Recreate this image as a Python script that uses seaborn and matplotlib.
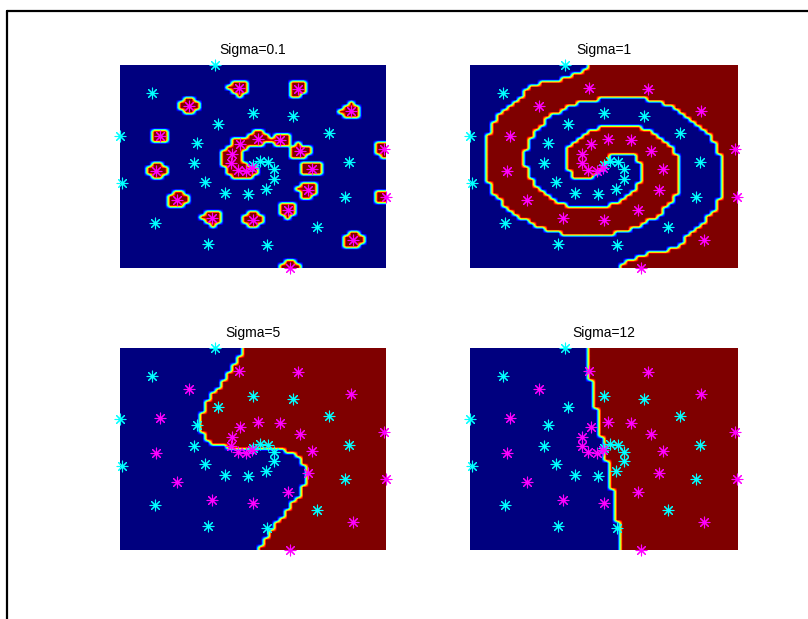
import numpy as np
import matplotlib
matplotlib.use("Agg")
import matplotlib.pyplot as plt
from matplotlib.lines import Line2D
import seaborn as sns

# Two interleaved spirals: class -1 (cyan) and class +1 (magenta)
cyan_x = [-1.43, -3.77, 0.01, 1.51, -1.31, -4.99, 2.86, -2.08, -2.21, 0.26, 0.57, 0.79, 3.61,
          -4.93, -1.78, 0.79, 0.48, -1.06, -0.18, 3.48, -3.68, 2.41, -1.68, 0.53, 0.02]
cyan_y = [5.00, 3.61, 2.62, 2.49, 2.10, 1.48, 1.64, 1.18, 0.15, 0.25, 0.20, -0.13, 0.21,
          -0.82, -0.75, -0.61, -1.10, -1.30, -1.36, -1.48, -2.79, -3.00, -3.82, -3.89, 0.05]
mag_x = [-0.53, 1.69, -2.41, 3.68, -3.49, 0.19, 1.04, -0.47, 1.79, -0.78, 4.94, -0.81, -3.62,
         -0.56, -0.24, -0.02, 2.22, 2.07, 5.01, -2.84, 1.32, -1.52, 0.01, 3.76, 1.41]
mag_y = [3.85, 3.82, 2.98, 2.74, 1.51, 1.36, 1.30, 1.10, 0.74, 0.61, 0.85, 0.16, -0.20,
         -0.16, -0.21, -0.05, -0.11, -1.18, -1.48, -1.64, -2.13, -2.54, -2.66, -3.62, -5.00]

sigmas = [0.1, 1, 5, 12]
titles = ["Sigma=0.1", "Sigma=1", "Sigma=5", "Sigma=12"]

GAMMA = 5.0      # regularisation of the least-squares SVM
TAU = 2e-5       # decision threshold for the positive class
NGRID = 50       # evaluation grid per axis


def rbf(A, B, s):
    d2 = ((A[:, None, :] - B[None, :, :]) ** 2).sum(-1)
    return np.exp(-d2 / (2.0 * s * s))


def lssvm_fit(X, y, s, gam):
    n = len(y)
    M = np.zeros((n + 1, n + 1))
    M[0, 1:] = 1.0
    M[1:, 0] = 1.0
    M[1:, 1:] = rbf(X, X, s) + np.eye(n) / gam
    sol = np.linalg.solve(M, np.r_[0.0, y])
    return sol[0], sol[1:]


X = np.column_stack([np.r_[cyan_x, mag_x], np.r_[cyan_y, mag_y]])
y = np.r_[-np.ones(len(cyan_x)), np.ones(len(mag_x))]

xmin, xmax = X[:, 0].min(), X[:, 0].max()
ymin, ymax = X[:, 1].min(), X[:, 1].max()
gx = xmin + (np.arange(NGRID) + 0.5) * (xmax - xmin) / NGRID
gy = ymin + (np.arange(NGRID) + 0.5) * (ymax - ymin) / NGRID
GX, GY = np.meshgrid(gx, gy)
G = np.column_stack([GX.ravel(), GY.ravel()])

sns.set_style("white")
plt.rcParams["font.family"] = ["Liberation Sans", "DejaVu Sans"]

W, H = 808, 619
fig = plt.figure(figsize=(W / 100, H / 100), dpi=100)

# axes boxes in pixels: (left, top, right, bottom)
boxes = [(120, 65, 386, 268), (470, 65, 737, 268),
         (120, 348, 386, 550), (470, 348, 737, 550)]

for (l, t, r, b), s, title in zip(boxes, sigmas, titles):
    ax = fig.add_axes([l / W, 1 - b / H, (r - l) / W, (b - t) / H])
    b0, alpha = lssvm_fit(X, y, s, GAMMA)
    f = rbf(G, X, s) @ alpha + b0
    Z = (f > TAU).astype(float).reshape(NGRID, NGRID)
    ax.imshow(Z, extent=(xmin, xmax, ymin, ymax), origin="lower", cmap="jet",
              vmin=0, vmax=1, interpolation="bilinear", interpolation_stage="data",
              aspect="auto", zorder=0)
    sns.scatterplot(x=cyan_x, y=cyan_y, color="#00ffff", marker=(8, 2, 0), s=60,
                    linewidth=0.8, clip_on=False, ax=ax, zorder=3)
    sns.scatterplot(x=mag_x, y=mag_y, color="#ff00ff", marker=(8, 2, 0), s=60,
                    linewidth=0.8, clip_on=False, ax=ax, zorder=3)
    ax.set_xlim(xmin, xmax)
    ax.set_ylim(ymin, ymax)
    ax.set_xticks([])
    ax.set_yticks([])
    for sp in ax.spines.values():
        sp.set_visible(False)
    ax.set_title(title, fontsize=10, pad=8, color="black")

# figure frame on the left and top
fig.add_artist(Line2D([6.5 / W, 6.5 / W], [0, 1 - 11 / H], transform=fig.transFigure,
                      color="black", linewidth=1.6))
fig.add_artist(Line2D([6.5 / W, 1], [1 - 11 / H, 1 - 11 / H], transform=fig.transFigure,
                      color="black", linewidth=1.6))

fig.savefig("out.png", dpi=100)
